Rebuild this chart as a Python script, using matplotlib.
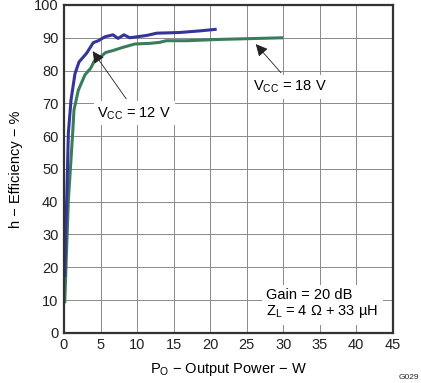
import matplotlib
matplotlib.use("Agg")
import matplotlib.pyplot as plt

# V_CC = 12 V
p12 = [0.1, 0.2, 0.37, 0.6, 0.96, 1.5, 2.05, 3.1, 4.0, 4.7, 5.6, 6.7, 7.4, 8.2, 9.0,
       11.3, 12.7, 15.8, 18.6, 20.9]
eff12 = [17, 28, 40.5, 61, 71, 79, 82.6, 85.3, 88.5, 89.1, 90.3, 90.9, 89.8, 90.9, 90.0,
         90.7, 91.4, 91.6, 92.1, 92.6]

# V_CC = 18 V
p18 = [0.1, 0.3, 0.6, 1.19, 1.37, 1.96, 2.87, 3.65, 4.1, 4.5, 4.9, 5.7, 6.7, 8.1, 9.7,
       11.8, 13.1, 14.0, 16.8, 21.3, 30.0]
eff18 = [9, 22, 40.5, 61, 68, 74, 78.7, 80.7, 82.7, 84, 84, 85.5, 86.1, 87.1, 88.1,
         88.3, 88.6, 89.1, 89.1, 89.5, 90.0]

xticks = [0, 5, 10, 15, 20, 25, 30, 35, 40, 45]
yticks = [0, 10, 20, 30, 40, 50, 60, 70, 80, 90, 100]

plt.rcParams["font.family"] = ["Liberation Sans", "DejaVu Sans"]

fig = plt.figure(figsize=(4.21, 3.83), dpi=100)
ax = fig.add_axes([0.152, 0.131, 0.781, 0.856])

ax.plot(p18, eff18, color="#3a7d5c", lw=2.2, solid_capstyle="butt")
ax.plot(p12, eff12, color="#34349a", lw=2.2, solid_capstyle="butt")

ax.set_xlim(0, 45)
ax.set_ylim(0, 100)
ax.set_xticks(xticks)
ax.set_yticks(yticks)
ax.tick_params(length=0, labelsize=10.5, colors="#222222", pad=4)
ax.grid(True, color="#8a8a8a", lw=0.7)
ax.set_axisbelow(True)
for s in ax.spines.values():
    s.set_linewidth(1.6)
    s.set_color("#333333")

ax.set_xlabel(r"P$_\mathregular{O}$ − Output Power − W", fontsize=10.5, labelpad=6)
ax.set_ylabel("h − Efficiency − %", fontsize=10.5, labelpad=8)

bbox = dict(boxstyle="square,pad=0.25", fc="white", ec="none")
arrow = dict(arrowstyle="-|>", color="#222222", lw=0.6, mutation_scale=18)
ax.annotate(r"V$_\mathregular{CC}$ = 12 V", xy=(3.7, 86.6), xytext=(9.6, 67),
            ha="center", va="center", fontsize=10.5, bbox=bbox,
            arrowprops=dict(arrow, relpos=(0.45, 1.0)))
ax.annotate(r"V$_\mathregular{CC}$ = 18 V", xy=(26.0, 88.7), xytext=(30.9, 75),
            ha="center", va="center", fontsize=10.5, bbox=bbox,
            arrowprops=dict(arrow, relpos=(0.45, 1.0)))

ax.text(27.7, 8.8, "Gain = 20 dB\n" + r"Z$_\mathregular{L}$ = 4 Ω + 33 µH",
        ha="left", va="center", fontsize=10.5, linespacing=1.15,
        bbox=dict(boxstyle="square,pad=0.3", fc="white", ec="none"))

fig.text(0.995, 0.005, "G029", ha="right", va="bottom", fontsize=6, color="#222222")

fig.savefig("out.png", dpi=100)
